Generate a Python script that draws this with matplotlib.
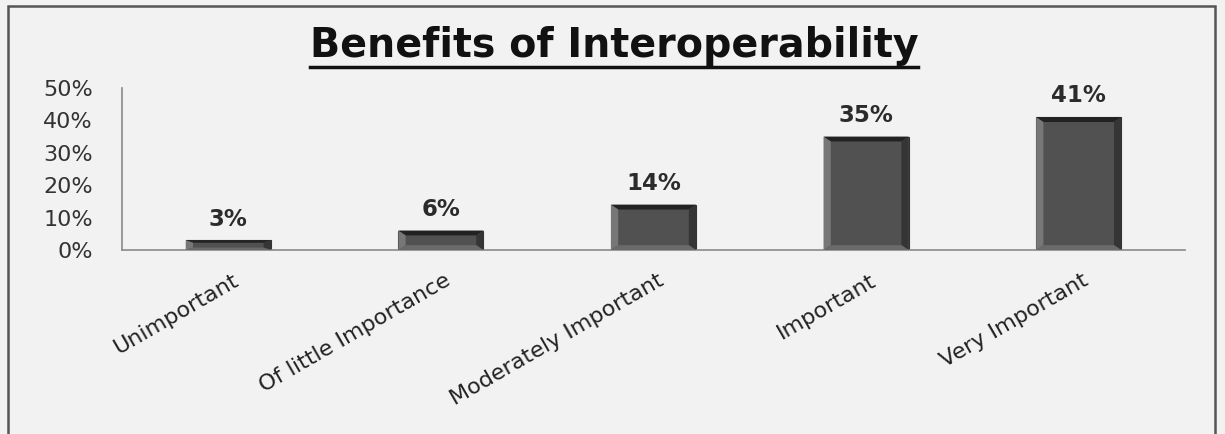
import matplotlib
matplotlib.use("Agg")
import matplotlib.pyplot as plt
from matplotlib.lines import Line2D
from matplotlib.patches import Rectangle
import numpy as np

# Datos del grafico
categorias = ["Unimportant", "Of little Importance", "Moderately Important",
              "Important", "Very Important"]
valores = [3, 6, 14, 35, 41]
ticks_y = [0, 10, 20, 30, 40, 50]
titulo = "Benefits of Interoperability"

fondo = "#f2f2f2"
fig = plt.figure(figsize=(12.25, 4.34), dpi=100, facecolor=fondo)

# Marco exterior del grafico
fig.patches.append(Rectangle((8 / 1225, -0.05), 1207 / 1225, 1.05 - 6 / 434,
                             transform=fig.transFigure, fill=False,
                             edgecolor="#555555", linewidth=1.8))

ax = fig.add_axes([122 / 1225, (434 - 250) / 434, 1063 / 1225, 162 / 434])
ax.set_facecolor("none")

x = np.arange(len(categorias))
ancho = 0.4

for xi, v in zip(x, valores):
    izq, der = xi - ancho / 2, xi + ancho / 2
    bisel_x = ancho * 0.085
    bisel_y = min(1.5, v * 0.25)
    # cuerpo
    ax.add_patch(Rectangle((izq, 0), ancho, v, facecolor="#515151",
                           edgecolor="#333333", linewidth=0.8, zorder=2))
    # caras del bisel
    ax.fill([izq, der, der - bisel_x, izq + bisel_x], [v, v, v - bisel_y, v - bisel_y],
            color="#222222", zorder=3, linewidth=0)
    ax.fill([izq, izq + bisel_x, izq + bisel_x, izq], [0, bisel_y, v - bisel_y, v],
            color="#777777", zorder=3, linewidth=0)
    ax.fill([der, der - bisel_x, der - bisel_x, der], [0, bisel_y, v - bisel_y, v],
            color="#353535", zorder=3, linewidth=0)
    ax.fill([izq, der, der - bisel_x, izq + bisel_x], [0, 0, bisel_y, bisel_y],
            color="#6a6a6a", zorder=3, linewidth=0)
    ax.annotate(f"{v}%", (xi, v), xytext=(0, 7), textcoords="offset points",
                ha="center", va="bottom", fontsize=16.5, fontweight="bold",
                color="#2b2b2b")

ax.set_xlim(-0.5, len(categorias) - 0.5)
ax.set_ylim(0, 50)
ax.set_yticks(ticks_y)
ax.set_yticklabels([f"{t}%" for t in ticks_y], fontsize=16, color="#333333")
ax.tick_params(axis="y", length=0, pad=21)
ax.tick_params(axis="x", length=0)
ax.set_xticks(x)
ax.set_xticklabels([])
for xi, c in zip(x, categorias):
    ax.annotate(c, (xi, 0), xytext=(6, -21), textcoords="offset points",
                rotation=30, rotation_mode="anchor", ha="right", va="center",
                fontsize=16, color="#222222", annotation_clip=False)

for lado in ["top", "right"]:
    ax.spines[lado].set_visible(False)
for lado in ["left", "bottom"]:
    ax.spines[lado].set_color("#8a8a8a")
    ax.spines[lado].set_linewidth(1.2)

t = fig.text(614 / 1225, 1 - 46 / 434, titulo, ha="center", va="center",
             fontsize=28.5, fontweight="bold", color="#111111")

# Subrayado del titulo
fig.canvas.draw()
bb = t.get_window_extent().transformed(fig.transFigure.inverted())
yl = bb.y0 - 1 / 434
fig.lines.append(Line2D([bb.x0, bb.x1], [yl, yl], transform=fig.transFigure,
                        color="#111111", linewidth=2.5))

fig.savefig("out.png", dpi=100, facecolor=fondo)
